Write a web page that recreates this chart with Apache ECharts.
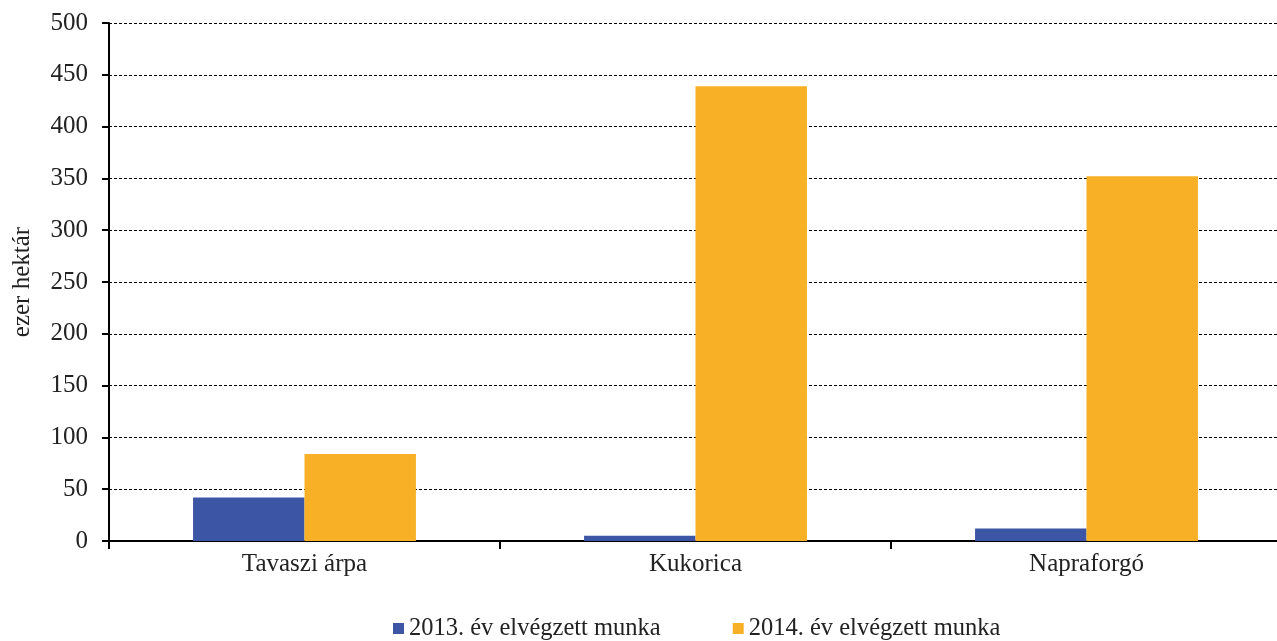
<!DOCTYPE html>
<html>
<head>
<meta charset="utf-8">
<script src="https://cdn.jsdelivr.net/npm/echarts@6/dist/echarts.min.js"></script>
<style>
  html, body { margin: 0; padding: 0; background: #fff; }
  #chart { width: 1277px; height: 641px; }
</style>
</head>
<body>
<div id="chart"></div>
<script>
var categories = ['Tavaszi árpa', 'Kukorica', 'Napraforgó'];
var work2013 = [42, 5, 12];
var work2014 = [84, 439, 352];
var yTicks = [0, 50, 100, 150, 200, 250, 300, 350, 400, 450, 500];

var font = '"Liberation Serif", "Times New Roman", serif';

var chart = echarts.init(document.getElementById('chart'));
chart.setOption({
    animation: false,
    textStyle: { fontFamily: font },
    grid: { left: 109, right: -5, top: 23, bottom: 100, containLabel: false, outerBoundsMode: 'none' },
    legend: {
        bottom: -5,
        left: 388,
        itemGap: 72,
        itemWidth: 11,
        itemHeight: 11,
        icon: 'rect',
        textStyle: { fontFamily: font, fontSize: 24.5, color: '#222' },
        data: ['2013. év elvégzett munka', '2014. év elvégzett munka']
    },
    xAxis: {
        type: 'category',
        data: categories,
        axisLine: { lineStyle: { color: '#000', width: 2 } },
        axisTick: { show: true, length: 8, lineStyle: { color: '#000', width: 2 } },
        axisLabel: { fontFamily: font, fontSize: 25, color: '#222', margin: 11 }
    },
    yAxis: {
        type: 'value',
        min: 0,
        max: yTicks[yTicks.length - 1],
        interval: 50,
        name: 'ezer hektár',
        nameLocation: 'middle',
        nameGap: 74,
        nameTextStyle: { fontFamily: font, fontSize: 25, color: '#222' },
        axisLine: { show: true, lineStyle: { color: '#000', width: 2 } },
        axisTick: { show: true, inside: false, length: 7, lineStyle: { color: '#000', width: 2 } },
        axisLabel: { fontFamily: font, fontSize: 25, color: '#222', margin: 21 },
        splitLine: { show: true, lineStyle: { color: '#000', width: 1, type: [3, 2] } }
    },
    series: [
        {
            name: '2013. év elvégzett munka',
            type: 'bar',
            data: work2013,
            barGap: '0%',
            barCategoryGap: '43%',
            itemStyle: { color: '#3D55A5' }
        },
        {
            name: '2014. év elvégzett munka',
            type: 'bar',
            data: work2014,
            barGap: '0%',
            barCategoryGap: '43%',
            itemStyle: { color: '#F8B127' }
        }
    ]
});
</script>
</body>
</html>
